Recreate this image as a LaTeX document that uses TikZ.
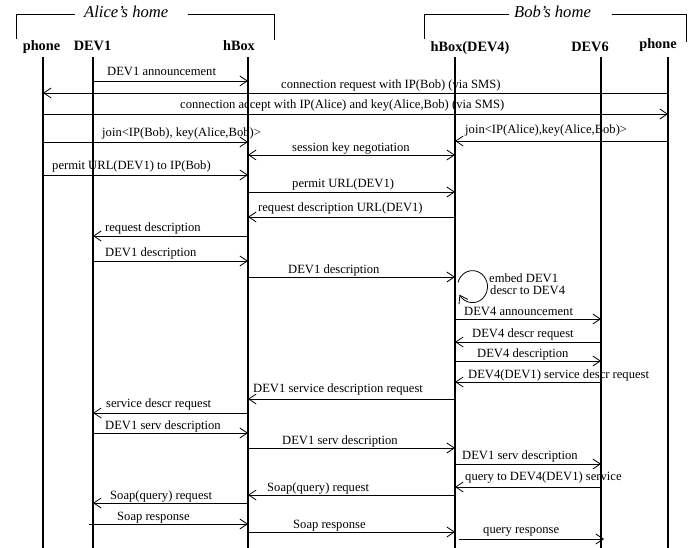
\documentclass[tikz,border=0pt]{standalone}
\usepackage{fontspec}
\setmainfont{Liberation Serif}
\usetikzlibrary{arrows.meta}

\begin{document}
\begin{tikzpicture}[x=1pt, y=-1pt,
  life/.style={line width=2.3pt},
  msg/.style={line width=0.8pt, >={Straight Barb[length=7.5pt,width=10pt]}, ->},
  lbl/.style={anchor=base west, inner sep=0pt, font=\fontsize{12.6}{14}\selectfont},
  head/.style={anchor=base, inner sep=0pt, font=\fontsize{14.3}{17}\selectfont\bfseries},
  home/.style={anchor=base west, inner sep=0pt, font=\fontsize{16.6}{19}\selectfont\itshape},
  bracket/.style={line width=0.8pt}]
  \useasboundingbox (0,0) rectangle (697,548);

  % homes
  \node[home] (alice) at (84,17.5) {Alice’s home};
  \draw[bracket] (16,39) |- (75,14);
  \draw[bracket] (188,14) -| (274,40);
  \node[home] (bob) at (514,18) {Bob’s home};
  \draw[bracket] (424,39) |- (509,14);
  \draw[bracket] (612,14) -| (686,42);

  % heads
  \node[head] (hpa) at (41.5,51) {phone};
  \node[head] (hdev1) at (92.5,51) {DEV1};
  \node[head] (hhbox) at (239,51) {hBox};
  \node[head] (hhboxb) at (470,52) {hBox(DEV4)};
  \node[head] (hdev6) at (590,52) {DEV6};
  \node[head] (hpb) at (658,49) {phone};

  % lifelines
  \foreach \n/\x in {pa/43, dev1/93, hbox/248, hboxb/455, dev6/601, pb/668}{
    \coordinate (\n) at (\x,57);
    \coordinate (\n-end) at (\x,548);
    \draw[life] (\n) -- (\n-end);
  }

  % setting up the link
  \draw[msg] (dev1 |- 0,81) -- (hbox |- 0,81);
  \node[lbl] (m1) at (107,76) {DEV1 announcement};
  \draw[msg] (pb |- 0,93) -- (pa |- 0,93);
  \node[lbl] (m2) at (281,89) {connection request with IP(Bob) (via SMS)};
  \draw[msg] (pa |- 0,114) -- (pb |- 0,114);
  \node[lbl] (m3) at (180,109) {connection accept with IP(Alice) and key(Alice,Bob) (via SMS)};
  \draw[msg] (pa |- 0,142) -- (hbox |- 0,142);
  \node[lbl] (m4) at (102,137) {join<IP(Bob), key(Alice,Bob)>};
  \draw[msg] (pb |- 0,141) -- (hboxb |- 0,141);
  \node[lbl] (m5) at (465,134) {join<IP(Alice),key(Alice,Bob)>};
  \draw[msg, <->] (hbox |- 0,155) -- (hboxb |- 0,155);
  \node[lbl] (m6) at (292,152) {session key negotiation};
  \draw[msg] (pa |- 0,175) -- (hbox |- 0,175);
  \node[lbl] (m7) at (52,170) {permit URL(DEV1) to IP(Bob)};
  \draw[msg] (hbox |- 0,192) -- (hboxb |- 0,192);
  \node[lbl] (m8) at (292,188) {permit URL(DEV1)};

  % device description
  \draw[msg] (hboxb |- 0,217) -- (hbox |- 0,217);
  \node[lbl] (m9) at (258,212) {request description URL(DEV1)};
  \draw[msg] (hbox |- 0,236) -- (dev1 |- 0,236);
  \node[lbl] (m10) at (105,232) {request description};
  \draw[msg] (dev1 |- 0,261) -- (hbox |- 0,261);
  \node[lbl] (m11) at (105,257) {DEV1 description};
  \draw[msg] (hbox |- 0,277) -- (hboxb |- 0,277);
  \node[lbl] (m12) at (288,274) {DEV1 description};
  \draw[msg] (458,282.5) arc[start angle=195, end angle=510, x radius=15, y radius=16];
  \node[lbl] (m13a) at (489,283) {embed DEV1};
  \node[lbl] (m13b) at (490,295) {descr to DEV4};
  \draw[msg] (hboxb |- 0,319) -- (dev6 |- 0,319);
  \node[lbl] (m14) at (464,316) {DEV4 announcement};
  \draw[msg] (dev6 |- 0,342) -- (hboxb |- 0,342);
  \node[lbl] (m15) at (472,338) {DEV4 descr request};
  \draw[msg] (hboxb |- 0,361) -- (dev6 |- 0,361);
  \node[lbl] (m16) at (477,358) {DEV4 description};

  % service description
  \draw[msg] (dev6 |- 0,382) -- (hboxb |- 0,382);
  \node[lbl] (m17) at (468,378) {DEV4(DEV1) service descr request};
  \draw[msg] (hboxb |- 0,399) -- (hbox |- 0,399);
  \node[lbl] (m18) at (253,393) {DEV1 service description request};
  \draw[msg] (hbox |- 0,413) -- (dev1 |- 0,413);
  \node[lbl] (m19) at (106,408) {service descr request};
  \draw[msg] (dev1 |- 0,433) -- (hbox |- 0,433);
  \node[lbl] (m20) at (105,429) {DEV1 serv description};
  \draw[msg] (hbox |- 0,448) -- (hboxb |- 0,448);
  \node[lbl] (m21) at (282,444) {DEV1 serv description};
  \draw[msg] (hboxb |- 0,464) -- (dev6 |- 0,464);
  \node[lbl] (m22) at (462,460) {DEV1 serv description};

  % query
  \draw[msg] (dev6 |- 0,487) -- (hboxb |- 0,487);
  \node[lbl] (m23) at (465,480) {query to DEV4(DEV1) service};
  \draw[msg] (hboxb |- 0,495) -- (hbox |- 0,495);
  \node[lbl] (m24) at (267,491) {Soap(query) request};
  \draw[msg] (hbox |- 0,503) -- (dev1 |- 0,503);
  \node[lbl] (m25) at (110,499) {Soap(query) request};
  \draw[msg] ([xshift=-4pt]dev1 |- 0,524) -- (hbox |- 0,524);
  \node[lbl] (m26) at (117,520) {Soap response};
  \draw[msg] (hbox |- 0,532) -- (hboxb |- 0,532);
  \node[lbl] (m27) at (293,528) {Soap response};
  \draw[msg] ([xshift=4pt]hboxb |- 0,539) -- ([xshift=3pt]dev6 |- 0,539);
  \node[lbl] (m28) at (483,533) {query response};
\end{tikzpicture}
\end{document}
